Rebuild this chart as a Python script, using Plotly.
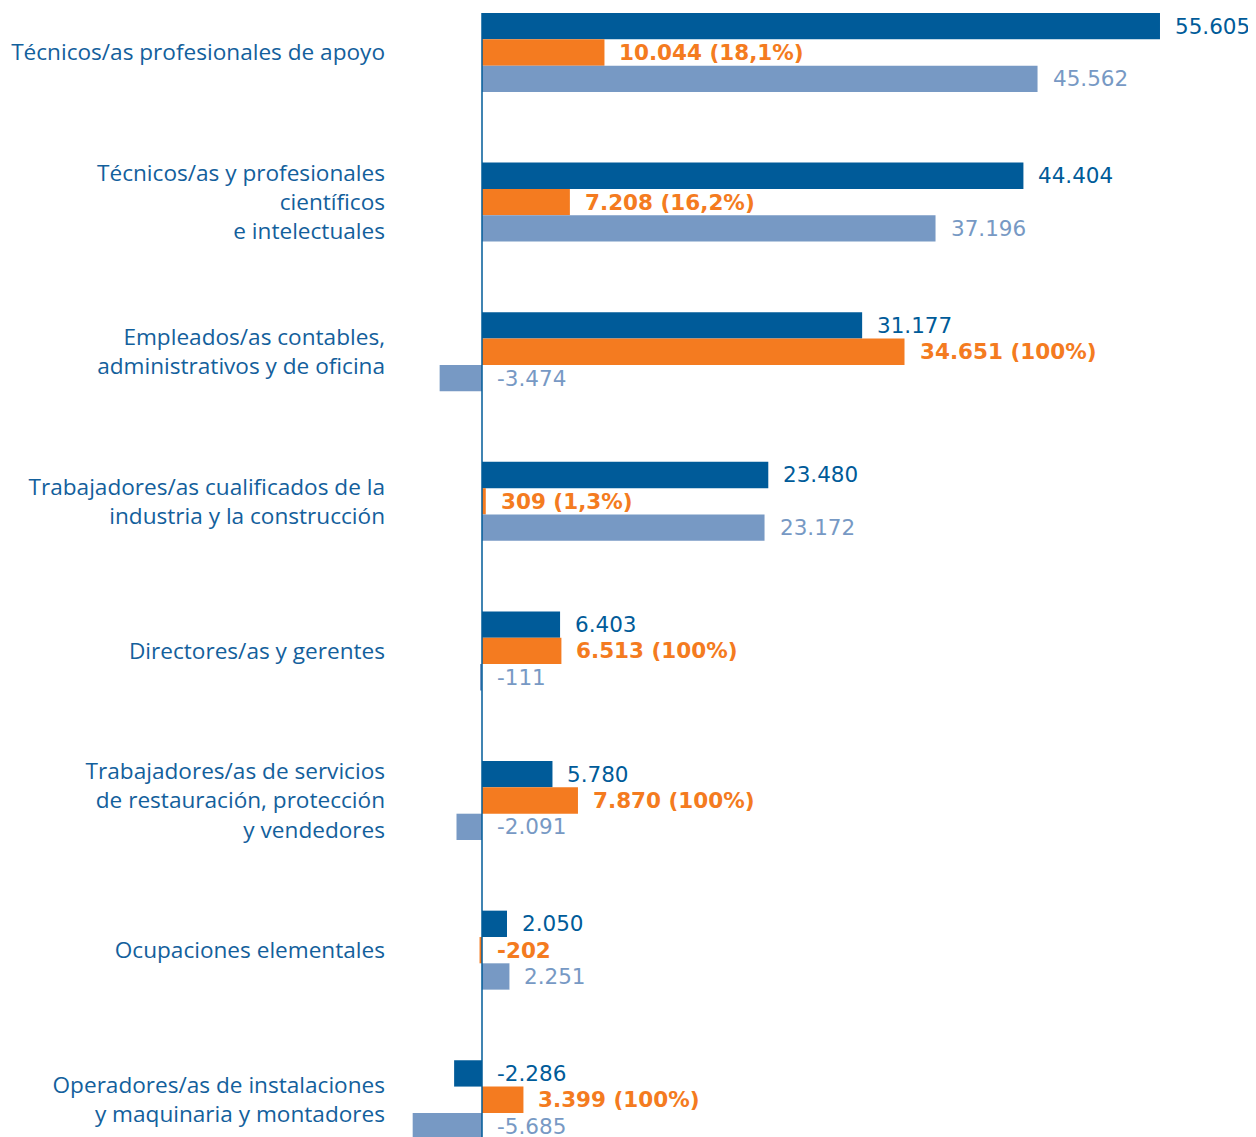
import plotly.graph_objects as go

categories = [
    "Técnicos/as profesionales de apoyo",
    "Técnicos/as y profesionales<br>científicos<br>e intelectuales",
    "Empleados/as contables,<br>administrativos y de oficina",
    "Trabajadores/as cualificados de la<br>industria y la construcción",
    "Directores/as y gerentes",
    "Trabajadores/as de servicios<br>de restauración, protección<br>y vendedores",
    "Ocupaciones elementales",
    "Operadores/as de instalaciones<br>y maquinaria y montadores",
]
total = [55605, 44404, 31177, 23480, 6403, 5780, 2050, -2286]
mujeres = [10044, 7208, 34651, 309, 6513, 7870, -202, 3399]
mujeres_pct = ["18,1%", "16,2%", "100%", "1,3%", "100%", "100%", None, "100%"]
hombres = [45562, 37196, -3474, 23172, -111, -2091, 2251, -5685]

C_DARK = "#005B99"
C_ORANGE = "#F47B20"
C_LIGHT = "#7799C4"
FONT = "Open Sans"
VFONT = "DejaVu Sans"

def fmt(v):
    s = f"{abs(v):,}".replace(",", ".")
    return ("-" if v < 0 else "") + s

ypos = list(range(len(categories)))
fig = go.Figure()
series = [(total, C_DARK), (mujeres, C_ORANGE), (hombres, C_LIGHT)]
for vals, col in series:
    fig.add_trace(go.Bar(y=ypos, x=vals, orientation="h", marker_color=col,
                         marker_line_width=0, showlegend=False))

gap = 0.472
bw = (1 - gap) / 3
annotations = []
for i, y in enumerate(ypos):
    for k, (vals, col) in enumerate(series):
        v = vals[i]
        txt = fmt(v)
        if k == 1:
            if mujeres_pct[i]:
                txt += f" ({mujeres_pct[i]})"
            txt = f"<b>{txt}</b>"
        annotations.append(dict(
            x=max(v, 0), y=y + (k - 1) * bw, xref="x", yref="y",
            text=txt, showarrow=False, xanchor="left", yanchor="middle",
            xshift=13, font=dict(family=VFONT, size=21.5, color=col)))

fig.update_layout(
    width=1248, height=1129,
    margin=dict(l=392, r=0, t=0, b=0),
    paper_bgcolor="white", plot_bgcolor="white",
    barmode="group", bargap=gap, bargroupgap=0,
    annotations=annotations,
    xaxis=dict(range=[-6725, 63479], visible=False, showgrid=False, zeroline=False),
    yaxis=dict(range=[7.249, -0.2975], tickvals=ypos, ticktext=categories,
               showgrid=False, zeroline=False, showline=False, ticks="",
               ticklabelstandoff=14,
               tickfont=dict(family=FONT, size=22.6, color="#13609C")),
    shapes=[dict(type="line", xref="x", yref="y", x0=0, x1=0,
                 y0=-0.5 + gap / 2, y1=7.249,
                 line=dict(color=C_DARK, width=1.5), layer="above")],
)
fig.write_html("out.html")
